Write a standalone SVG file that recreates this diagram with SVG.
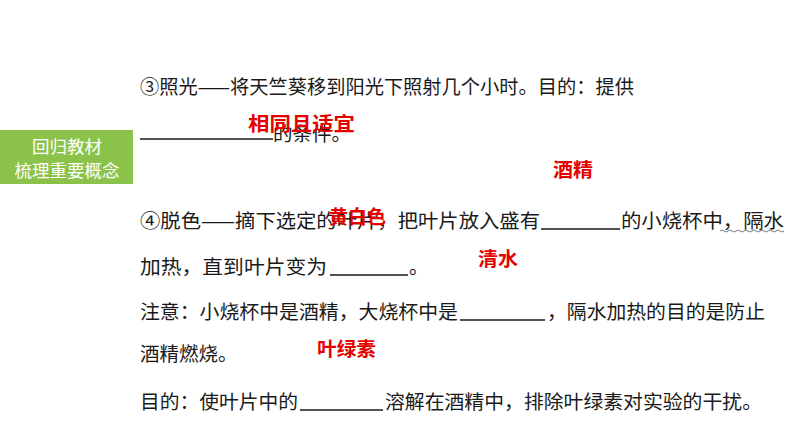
<svg xmlns="http://www.w3.org/2000/svg" width="794" height="447" viewBox="0 0 794 447">
<style>
.t{font-family:"Noto Sans CJK SC","Noto Sans",sans-serif;font-size:19.5px;fill:#1a1a1a}
.r{font-family:"Noto Sans CJK SC","Noto Sans",sans-serif;font-size:19.5px;font-weight:bold;fill:#e60000}
.w{font-family:"Noto Sans CJK SC","Noto Sans",sans-serif;font-size:17.5px;fill:#fff}
.u{stroke:#1a1a1a;stroke-width:1.3}
</style>
<rect width="794" height="447" fill="#fff"/>
<g id="tag">
<rect x="0" y="130" width="133" height="54" fill="#8bc34a"/>
<text class="w" x="67" y="153" text-anchor="middle">回归教材</text>
<text class="w" x="67" y="177" text-anchor="middle">梳理重要概念</text>
</g>
<g id="body">
<text class="t" x="140" y="94" textLength="494" lengthAdjust="spacingAndGlyphs">③照光——将天竺葵移到阳光下照射几个小时。目的：提供</text>
<line class="u" x1="140" y1="139" x2="273" y2="139"/>
<text class="t" x="273" y="141">的条件。</text>
<text class="t" x="140" y="228" textLength="400" lengthAdjust="spacingAndGlyphs">④脱色——摘下选定的叶片，把叶片放入盛有</text>
<line class="u" x1="541" y1="229" x2="620" y2="229"/>
<text class="t" x="621" y="228" textLength="163" lengthAdjust="spacingAndGlyphs">的小烧杯中，隔水</text>
<path d="M720 231 q2 -2 4 0 t4 0 t4 0 t4 0 t4 0 t4 0 t4 0 t4 0 t4 0 t4 0 t4 0 t4 0 t4 0 t4 0 t4 0 t4 0" fill="none" stroke="#555" stroke-width="0.8"/>
<text class="t" x="140" y="274" textLength="187" lengthAdjust="spacingAndGlyphs">加热，直到叶片变为</text>
<line class="u" x1="330" y1="275" x2="408" y2="275"/>
<text class="t" x="409" y="274">。</text>
<text class="t" x="140" y="319" textLength="318" lengthAdjust="spacingAndGlyphs">注意：小烧杯中是酒精，大烧杯中是</text>
<line class="u" x1="460" y1="320" x2="545" y2="320"/>
<text class="t" x="547" y="319" textLength="218" lengthAdjust="spacingAndGlyphs">，隔水加热的目的是防止</text>
<text class="t" x="140" y="361">酒精燃烧。</text>
<text class="t" x="140" y="409" textLength="158" lengthAdjust="spacingAndGlyphs">目的：使叶片中的</text>
<line class="u" x1="300" y1="410" x2="383" y2="410"/>
<text class="t" x="385" y="409" textLength="377" lengthAdjust="spacingAndGlyphs">溶解在酒精中，排除叶绿素对实验的干扰。</text>
</g>
<g id="answers">
<text class="r" x="248" y="131" textLength="107" lengthAdjust="spacingAndGlyphs">相同且适宜</text>
<text class="r" x="553" y="177" textLength="40" lengthAdjust="spacingAndGlyphs">酒精</text>
<text class="r" x="329" y="224" textLength="57" lengthAdjust="spacingAndGlyphs">黄白色</text>
<text class="r" x="478" y="266" textLength="40" lengthAdjust="spacingAndGlyphs">清水</text>
<text class="r" x="317" y="356" textLength="59" lengthAdjust="spacingAndGlyphs">叶绿素</text>
</g>
</svg>
